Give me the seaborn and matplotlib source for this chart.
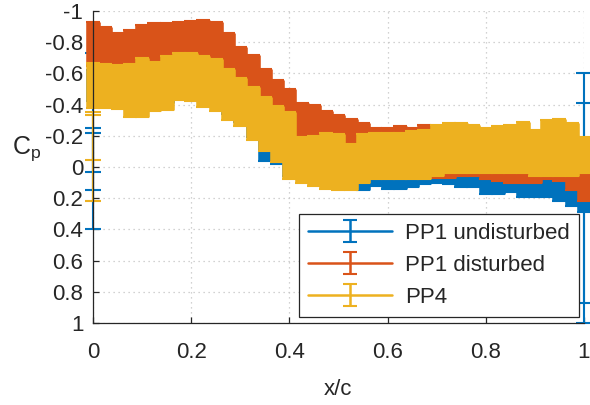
import numpy as np
import matplotlib
matplotlib.use("Agg")
import matplotlib.pyplot as plt
import seaborn as sns

# chordwise stations of the error bands
x_c = [0, 0.025, 0.05, 0.075, 0.1, 0.125, 0.15, 0.175, 0.2, 0.225,
       0.25, 0.275, 0.3, 0.325, 0.35, 0.375, 0.4, 0.425, 0.45, 0.475,
       0.5, 0.525, 0.55, 0.575, 0.6, 0.625, 0.65, 0.675, 0.7, 0.725,
       0.75, 0.775, 0.8, 0.825, 0.85, 0.875, 0.9, 0.925, 0.95, 0.975, 1.0]

# band edges, Cp (top = most negative, bot = least negative)
und_top = [-0.62, -0.62, -0.60, -0.62, -0.64, -0.62, -0.64, -0.66, -0.66, -0.64,
           -0.62, -0.58, -0.52, -0.46, -0.40, -0.34, -0.28, -0.14, -0.15, -0.16,
           -0.15, -0.10, -0.15, -0.16, -0.16, -0.16, -0.17, -0.18, -0.20, -0.21,
           -0.21, -0.20, -0.19, -0.20, -0.20, -0.22, -0.18, -0.22, -0.23, -0.20, -0.12]
und_bot = [-0.42, -0.42, -0.41, -0.37, -0.37, -0.41, -0.41, -0.46, -0.46, -0.42,
           -0.40, -0.34, -0.29, -0.19, -0.04, -0.02, 0.06, 0.08, 0.10, 0.12,
           0.14, 0.14, 0.15, 0.12, 0.14, 0.14, 0.13, 0.11, 0.10, 0.11,
           0.13, 0.13, 0.17, 0.17, 0.16, 0.19, 0.19, 0.19, 0.22, 0.25, 0.29]

dis_top = [-0.93, -0.90, -0.86, -0.88, -0.91, -0.92, -0.92, -0.93, -0.935, -0.94,
           -0.93, -0.86, -0.77, -0.72, -0.63, -0.56, -0.50, -0.41, -0.40, -0.36,
           -0.33, -0.31, -0.28, -0.25, -0.25, -0.26, -0.25, -0.27, -0.25, -0.24,
           -0.24, -0.22, -0.22, -0.22, -0.22, -0.22, -0.22, -0.22, -0.20, -0.20, -0.12]
dis_bot = [-0.65, -0.62, -0.62, -0.62, -0.64, -0.64, -0.66, -0.66, -0.68, -0.66,
           -0.65, -0.60, -0.52, -0.45, -0.38, -0.32, -0.25, -0.12, 0.00, 0.03,
           0.04, 0.04, 0.04, 0.04, 0.04, 0.04, 0.04, 0.05, 0.07, 0.07,
           0.06, 0.06, 0.08, 0.09, 0.10, 0.10, 0.10, 0.08, 0.09, 0.15, 0.22]

pp4_top = [-0.667, -0.66, -0.655, -0.66, -0.70, -0.67, -0.71, -0.73, -0.73, -0.71,
           -0.69, -0.63, -0.57, -0.51, -0.45, -0.39, -0.35, -0.19, -0.20, -0.22,
           -0.21, -0.15, -0.21, -0.22, -0.22, -0.22, -0.23, -0.24, -0.27, -0.28,
           -0.28, -0.27, -0.25, -0.26, -0.27, -0.29, -0.24, -0.30, -0.31, -0.28, -0.19]
pp4_bot = [-0.38, -0.38, -0.37, -0.32, -0.32, -0.36, -0.365, -0.43, -0.42, -0.385,
           -0.36, -0.30, -0.26, -0.17, -0.10, -0.03, 0.08, 0.10, 0.12, 0.14,
           0.15, 0.15, 0.10, 0.08, 0.08, 0.08, 0.08, 0.08, 0.06, 0.04,
           0.04, 0.04, 0.04, 0.04, 0.04, 0.04, 0.06, 0.06, 0.06, 0.06, 0.04]

# single taps at leading / trailing edge
und_le_top = [-0.73, -0.25, -0.22]
und_le_bot = [0.40, 0.15, 0.03]
und_te_top = [-0.60, -0.41]
und_te_bot = [0.87, 1.0]
pp4_le_top = [-0.35, -0.33]
pp4_le_bot = [0.22, -0.045]

labels = ["PP1 undisturbed", "PP1 disturbed", "PP4"]
colors = ["#0072BD", "#D95319", "#EDB120"]
y_ticks = [-1, -0.8, -0.6, -0.4, -0.2, 0, 0.2, 0.4, 0.6, 0.8, 1]
y_ticklabels = ["-1", "-0.8", "-0.6", "-0.4", "-0.2", "0", "0.2", "0.4", "0.6", "0.8", "1"]
x_ticks = [0, 0.2, 0.4, 0.6, 0.8, 1]
x_ticklabels = ["0", "0.2", "0.4", "0.6", "0.8", "1"]

sns.set_theme(style="ticks")
plt.rcParams["font.family"] = ["Liberation Sans", "DejaVu Sans"]
plt.rcParams["mathtext.fontset"] = "custom"
plt.rcParams["mathtext.rm"] = "Liberation Sans"

fig = plt.figure(figsize=(5.9, 4.05), dpi=100)
ax = fig.add_axes([0.1576, 0.2025, 0.832, 0.7704])


def band(x, top, bot, color, width=10.5, cap=5):
    top = np.array(top)
    bot = np.array(bot)
    mid = (top + bot) / 2
    ax.errorbar(x, mid, yerr=[mid - top, bot - mid], fmt="none", ecolor=color,
                elinewidth=width, capsize=cap, capthick=1.5, clip_on=False)
    return mid


mid = band(x_c, und_top, und_bot, colors[0])
sns.lineplot(x=x_c, y=mid, color=colors[0], lw=1.5, ax=ax)
band([0] * 3, und_le_top, und_le_bot, colors[0], width=1.5, cap=5.5)
band([1] * 2, und_te_top, und_te_bot, colors[0], width=1.5, cap=5.5)

mid = band(x_c, dis_top, dis_bot, colors[1])
sns.lineplot(x=x_c, y=mid, color=colors[1], lw=1.5, ax=ax)

mid = band(x_c, pp4_top, pp4_bot, colors[2])
sns.lineplot(x=x_c, y=mid, color=colors[2], lw=1.5, ax=ax)
band([0] * 2, pp4_le_top, pp4_le_bot, colors[2], width=1.5, cap=5.5)

# legend proxies
handles = []
for c, lab in zip(colors, labels):
    h = ax.errorbar([np.nan], [np.nan], yerr=[np.nan], color=c, lw=1.8,
                    capsize=5, capthick=1.5, label=lab)
    handles.append(h)

ax.set_xlim(0, 1)
ax.set_ylim(1, -1)
ax.set_xticks(x_ticks)
ax.set_xticklabels(x_ticklabels)
ax.set_yticks(y_ticks)
ax.set_yticklabels(y_ticklabels)
ax.grid(True, linestyle=(0, (1, 3)), color="#c4c4c4", lw=0.9)
ax.set_axisbelow(True)

for s in ["top", "right"]:
    ax.spines[s].set_visible(False)
for s in ["left", "bottom"]:
    ax.spines[s].set_color("#262626")
    ax.spines[s].set_linewidth(0.9)
ax.tick_params(direction="in", length=4, width=0.9, colors="#262626", labelsize=16)
ax.tick_params(axis="x", pad=14)
ax.tick_params(axis="y", pad=7)

ax.set_xlabel("x/c", fontsize=16, color="#262626", labelpad=11)
ax.set_ylabel("C$_{\\mathregular{p}}$", fontsize=18, color="#262626", rotation=0,
              ha="center", va="center")
ax.yaxis.set_label_coords(-0.135, 0.56)

leg = ax.legend(handles=handles, labels=labels, loc="lower right",
                bbox_to_anchor=(0.99, 0.02), fontsize=16, frameon=True,
                fancybox=False, edgecolor="#262626", framealpha=1,
                borderaxespad=0, handlelength=3.8, labelspacing=0.5,
                borderpad=0.4, handletextpad=0.6)
leg.get_frame().set_linewidth(0.9)

fig.savefig("out.png", dpi=100)
